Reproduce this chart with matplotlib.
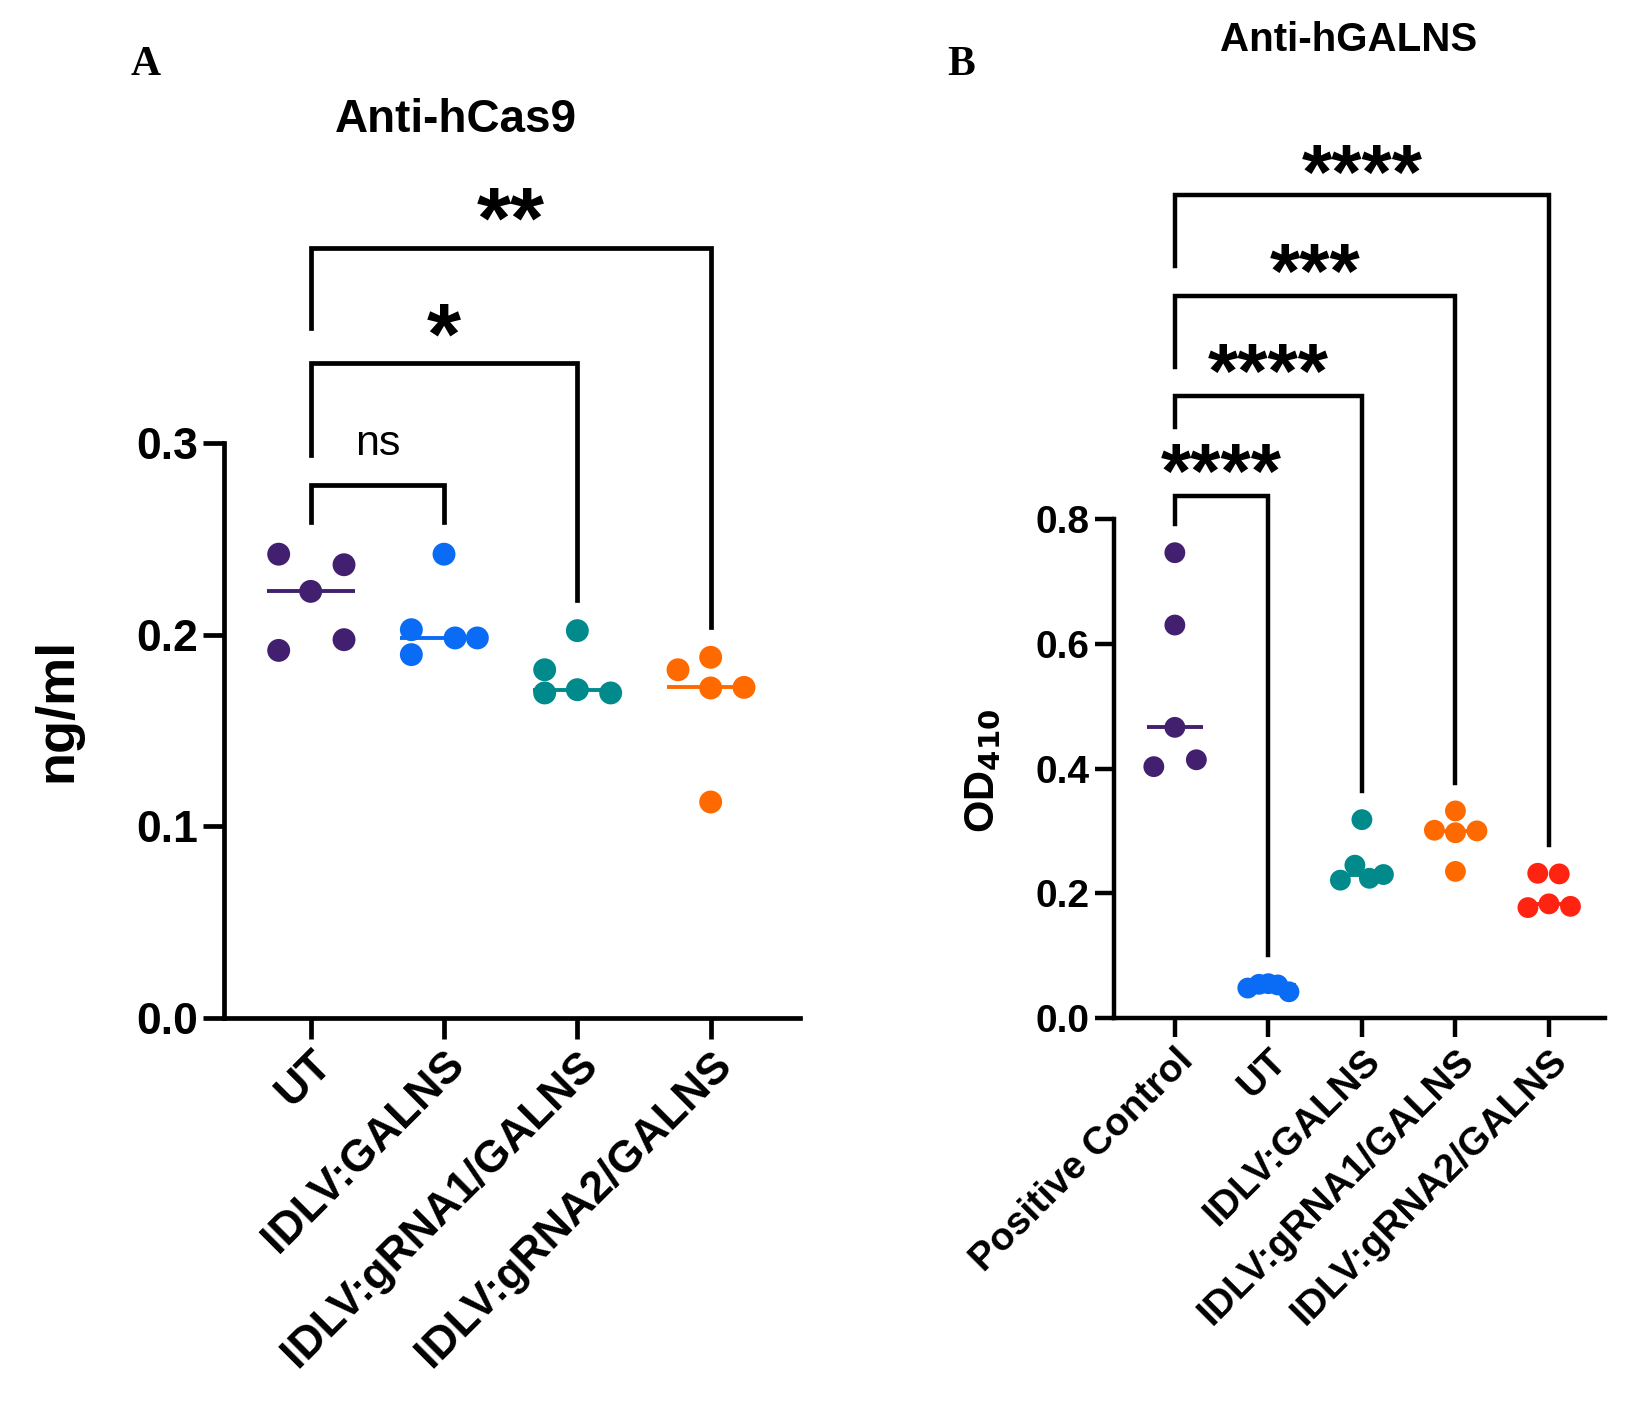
import matplotlib.pyplot as plt
import numpy as np

plt.rcParams['font.family'] = ['Liberation Sans', 'DejaVu Sans']

# ---- data: panel A, anti-hCas9 (ng/ml)
groups_a = ['UT', 'IDLV:GALNS', 'IDLV:gRNA1/GALNS', 'IDLV:gRNA2/GALNS']
ut_a = [0.242, 0.2365, 0.2226, 0.1918, 0.1974]
galns_a = [0.242, 0.2026, 0.1896, 0.1983, 0.1983]
grna1_a = [0.2021, 0.1817, 0.1696, 0.1713, 0.1696]
grna2_a = [0.1882, 0.1817, 0.1722, 0.1725, 0.1127]
values_a = [ut_a, galns_a, grna1_a, grna2_a]

# ---- data: panel B, anti-hGALNS (OD410)
groups_b = ['Positive Control', 'UT', 'IDLV:GALNS', 'IDLV:gRNA1/GALNS', 'IDLV:gRNA2/GALNS']
pc_b = [0.746, 0.630, 0.466, 0.403, 0.414]
ut_b = [0.048, 0.054, 0.055, 0.053, 0.042]
galns_b = [0.318, 0.245, 0.221, 0.224, 0.230]
grna1_b = [0.332, 0.301, 0.297, 0.300, 0.235]
grna2_b = [0.232, 0.231, 0.177, 0.183, 0.179]
values_b = [pc_b, ut_b, galns_b, grna1_b, grna2_b]

# significance: (group i, group j, label)
sig_a = [(0, 1, 'ns'), (0, 2, '*'), (0, 3, '**')]
sig_b = [(0, 1, '****'), (0, 2, '****'), (0, 3, '***'), (0, 4, '****')]

# ---- layout (scatter offsets like the original swarm, bracket geometry)
offsets_a = [[-0.24, 0.25, 0, -0.24, 0.25],
             [0, -0.245, -0.245, 0.083, 0.25],
             [0, -0.245, -0.245, 0, 0.25],
             [0, -0.245, 0, 0.25, 0]]
offsets_b = [[0, 0, 0, -0.225, 0.23],
             [-0.22, -0.1, 0.0, 0.1, 0.22],
             [0, -0.075, -0.23, 0.08, 0.23],
             [0, -0.225, 0, 0.23, 0],
             [-0.12, 0.11, -0.225, 0, 0.23]]
# (bar height, left leg bottom, right leg bottom, label centre)
brk_a = [(0.278, 0.259, 0.259, 0.2996),
         (0.342, 0.294, 0.218, 0.363),
         (0.402, 0.360, 0.204, 0.4234)]
brk_b = [(0.837, 0.792, 0.101, 0.892),
         (0.997, 0.947, 0.364, 1.0527),
         (1.158, 1.044, 0.376, 1.2134),
         (1.319, 1.205, 0.278, 1.3716)]

colors_a = ['#43206f', '#0a6cf5', '#008a8c', '#ff6a00']
colors_b = ['#43206f', '#0a6cf5', '#008a8c', '#ff6a00', '#ff2412']

fig = plt.figure(figsize=(16.34, 14.02), dpi=100)
axA = fig.add_axes([0.1371, 0.2739, 0.3525, 0.4101])
axB = fig.add_axes([0.6818, 0.2739, 0.3005, 0.3559])


def style_axis(ax, lw, ticklen, fs):
    for s in ['top', 'right']:
        ax.spines[s].set_visible(False)
    for s in ['left', 'bottom']:
        ax.spines[s].set_linewidth(lw)
    ax.tick_params(width=lw, length=ticklen, labelsize=fs, direction='out')
    for lab in ax.get_yticklabels():
        lab.set_fontweight('bold')


def draw_points(ax, values, offsets, colors, size, half):
    for i, (vals, offs, c) in enumerate(zip(values, offsets, colors)):
        x = i + np.array(offs)
        ax.hlines(np.median(vals), i - half, i + half, color=c, lw=2.8, zorder=3)
        ax.scatter(x, vals, s=size, color=c, edgecolors='none', zorder=4, clip_on=False)


def draw_brackets(ax, sig, brk, lw, star_fs, ns_fs):
    for (i, j, lab), (h, lb, rb, ly) in zip(sig, brk):
        ax.plot([i, i, j, j], [lb, h, h, rb], color='black', lw=lw,
                solid_joinstyle='miter', clip_on=False, zorder=2)
        if lab == 'ns':
            ax.annotate(lab, ((i + j) / 2, ly), xytext=(0, -0.26 * ns_fs),
                        textcoords='offset points', ha='center', va='baseline',
                        fontsize=ns_fs, annotation_clip=False)
        else:
            ax.annotate(lab, ((i + j) / 2, ly), xytext=(0, -0.47 * star_fs),
                        textcoords='offset points', ha='center', va='baseline',
                        fontsize=star_fs, fontweight='bold', annotation_clip=False)


# ---- panel A
draw_points(axA, values_a, offsets_a, colors_a, 272, 0.33)
draw_brackets(axA, sig_a, brk_a, 3.4, 63, 31)
axA.set_xlim(-0.65, 3.67)
axA.set_ylim(0, 0.3)
axA.set_yticks([0.0, 0.1, 0.2, 0.3])
axA.set_yticklabels(['0.0', '0.1', '0.2', '0.3'])
axA.set_xticks(range(len(groups_a)))
axA.set_xticklabels(groups_a, rotation=45, ha='right', va='top',
                    rotation_mode='anchor', fontweight='bold', fontsize=31)
style_axis(axA, 3.4, 15, 32)

# ---- panel B
draw_points(axB, values_b, offsets_b, colors_b, 225, 0.30)
draw_brackets(axB, sig_b, brk_b, 3.2, 56, 28)
axB.set_xlim(-0.65, 4.6)
axB.set_ylim(0, 0.8)
axB.set_yticks([0.0, 0.2, 0.4, 0.6, 0.8])
axB.set_yticklabels(['0.0', '0.2', '0.4', '0.6', '0.8'])
axB.set_xticks(range(len(groups_b)))
axB.set_xticklabels(groups_b, rotation=45, ha='right', va='top',
                    rotation_mode='anchor', fontweight='bold', fontsize=28)
style_axis(axB, 3.2, 14, 28)

# titles, axis labels, panel letters
fig.text(456 / 1634, 1 - 120 / 1402, 'Anti-hCas9', ha='center', va='center',
         fontsize=33, fontweight='bold')
fig.text(1349 / 1634, 1 - 40 / 1402, 'Anti-hGALNS', ha='center', va='center',
         fontsize=29, fontweight='bold')
fig.text(57 / 1634, 1 - 710 / 1402, 'ng/ml', rotation=90, ha='center', va='center',
         fontsize=39, fontweight='bold')
fig.text(983 / 1634, 1 - 771 / 1402, r'OD$_{\mathbf{410}}$', rotation=90, ha='center',
         va='center', fontsize=30, fontweight='bold')
fig.text(146 / 1634, 1 - 65 / 1402, 'A', ha='center', va='center', fontsize=30,
         fontweight='bold', family='Liberation Serif')
fig.text(961 / 1634, 1 - 65 / 1402, 'B', ha='center', va='center', fontsize=30,
         fontweight='bold', family='Liberation Serif')

fig.savefig('out.png', dpi=100, facecolor='white')
